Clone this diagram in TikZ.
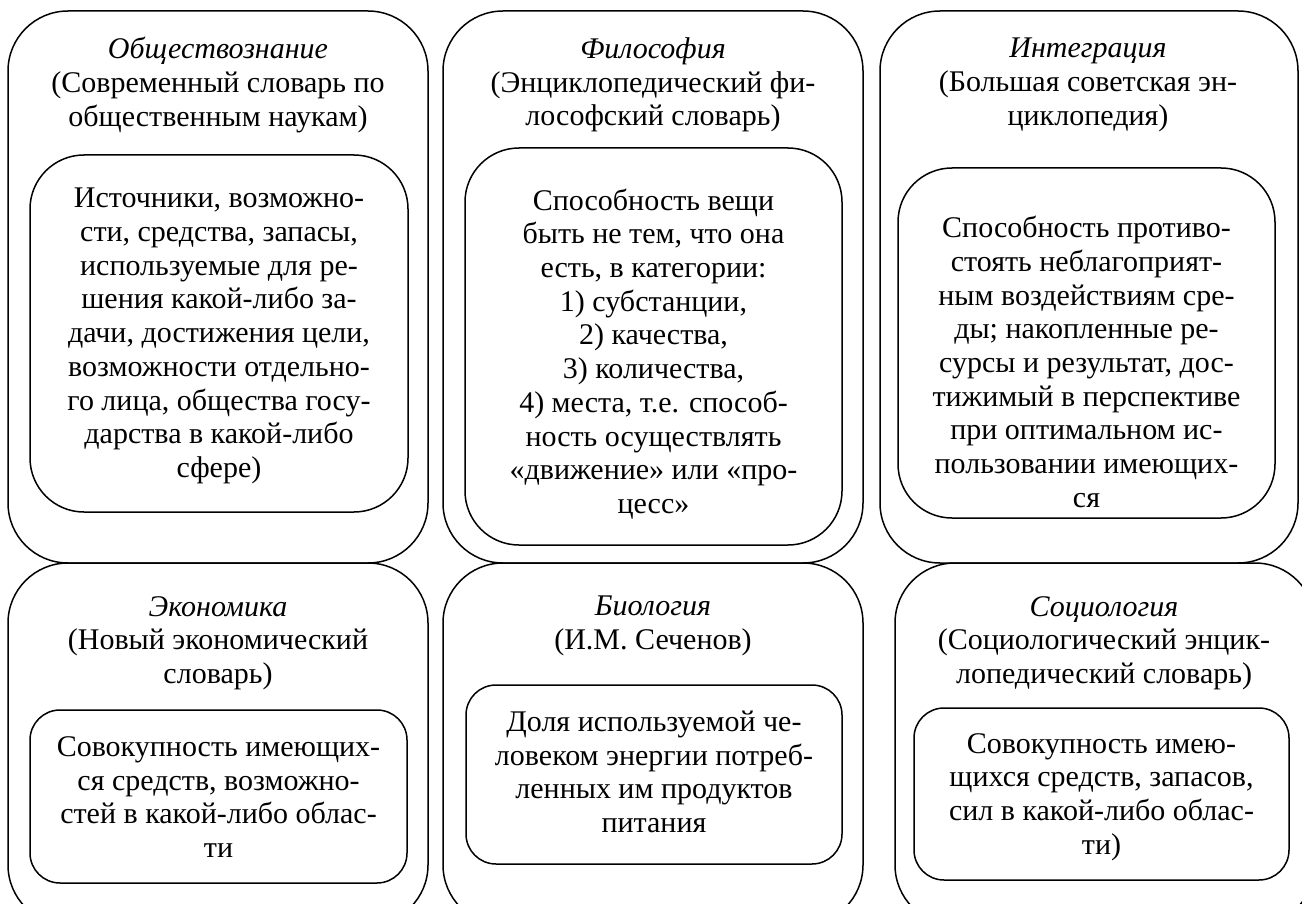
\documentclass[tikz,border=0pt]{standalone}
\usepackage{fontspec}
\setmainfont{Liberation Serif}
\begin{document}
\begin{tikzpicture}[x=0.5pt,y=-0.5pt,
  outerbox/.style={draw=black,line width=0.75pt,rounded corners=30pt},
  innerbox/.style={draw=black,line width=0.75pt,rounded corners=27pt},
  smallbox/.style={draw=black,line width=0.75pt,rounded corners=15pt},
  txt/.style={align=center,inner sep=0pt,font=\fontsize{15pt}{16.85pt}\selectfont}]
\clip (0,0) rectangle (1302,904);
\fill[white] (0,0) rectangle (1302,904);
% top row outer boxes
\draw[outerbox] (8,11) rectangle (428,563);
\draw[outerbox] (443,11) rectangle (863,563);
\draw[outerbox] (880,11) rectangle (1298,563);
% top row inner boxes
\draw[innerbox] (30,155) rectangle (408,512);
\draw[innerbox] (465,148) rectangle (842,545);
\draw[innerbox] (898,168) rectangle (1275,518);
% bottom row outer boxes
\draw[outerbox] (8,563) rectangle (428,925);
\draw[outerbox] (443,563) rectangle (863,925);
\draw[outerbox] (895,563) rectangle (1315,925);
% bottom row inner boxes
\draw[smallbox] (30,710) rectangle (407,883);
\draw[smallbox] (466,685) rectangle (842,864);
\draw[smallbox] (914,708) rectangle (1289,880);
% texts
\node[txt] (h1) at (218,85) {\textit{Обществознание}\\(Современный словарь по\\общественным наукам)};
\node[txt] (b1) at (219,336) {Источники, возможно-\\сти, средства, запасы,\\используемые для ре-\\шения какой-либо за-\\дачи, достижения цели,\\возможности отдельно-\\го лица, общества госу-\\дарства в какой-либо\\сфере)};
\node[txt] (h2) at (653,85) {\textit{Философия}\\(Энциклопедический фи-\\лософский словарь)};
\node[txt] (b2) at (653.5,354) {Способность вещи\\быть не тем, что она\\есть, в категории:\\1) субстанции,\\2) качества,\\3) количества,\\4) места, т.е. способ-\\ность осуществлять\\«движение» или «про-\\цесс»};
\node[txt] (h3) at (1088,85) {\textit{Интеграция}\\(Большая советская эн-\\циклопедия)};
\node[txt] (b3) at (1086.5,362) {Способность противо-\\стоять неблагоприят-\\ным воздействиям сре-\\ды; накопленные ре-\\сурсы и результат, дос-\\тижимый в перспективе\\при оптимальном ис-\\пользовании имеющих-\\ся};
\node[txt] (h4) at (218,643) {\textit{Экономика}\\(Новый экономический\\словарь)};
\node[txt] (b4) at (218.5,797) {Совокупность имеющих-\\ся средств, возможно-\\стей в какой-либо облас-\\ти};
\node[txt] (h5) at (653,626) {\textit{Биология}\\(И.М. Сеченов)};
\node[txt] (b5) at (654,772) {Доля используемой че-\\ловеком энергии потреб-\\ленных им продуктов\\питания};
\node[txt] (h6) at (1104,643) {\textit{Социология}\\(Социологический энцик-\\лопедический словарь)};
\node[txt] (b6) at (1101.5,797) {Совокупность имею-\\щихся средств, запасов,\\сил в какой-либо облас-\\ти)};
\end{tikzpicture}
\end{document}
